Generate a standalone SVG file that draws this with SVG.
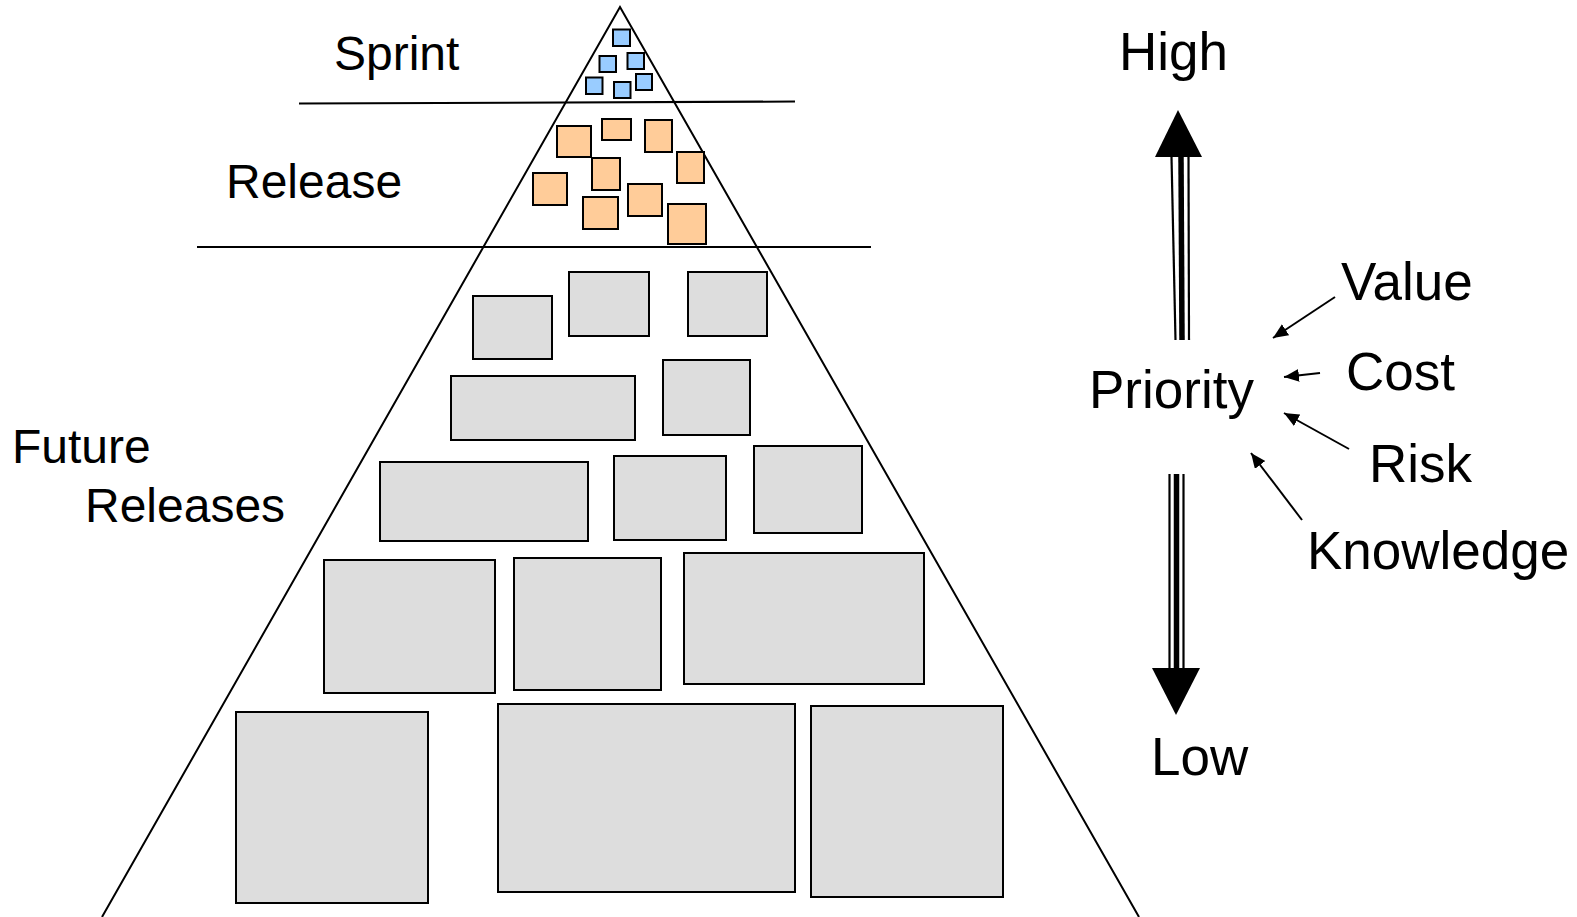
<svg xmlns="http://www.w3.org/2000/svg" width="1577" height="917" viewBox="0 0 1577 917">
  <style>
    .lbl { font-family: "Liberation Sans", Arial, sans-serif; fill: #000; }
    .left { font-size: 48px; }
    .right { font-size: 53px; }
    .edge { stroke: #000; stroke-width: 2; fill: none; }
    .sprint { fill: #99ccff; stroke: #000; stroke-width: 2; }
    .release { fill: #ffcc99; stroke: #000; stroke-width: 2; }
    .future { fill: #dddddd; stroke: #000; stroke-width: 2; }
    .thin { stroke: #000; stroke-width: 2.2; }
    .thick { stroke: #000; stroke-width: 5.5; }
    .pointer { stroke: #000; stroke-width: 2; fill: none; marker-end: url(#head); }
  </style>
  <defs>
    <marker id="head" markerUnits="userSpaceOnUse" markerWidth="16" markerHeight="14" refX="15" refY="6.5" orient="auto">
      <path d="M0,0 L15,6.5 L0,13 z" fill="#000"/>
    </marker>
  </defs>
  <rect width="1577" height="917" fill="#fff"/>

  <!-- backlog pyramid outline and tier dividers -->
  <g id="pyramid">
    <polyline class="edge" points="102,917 620,7 1139,917"/>
    <line class="edge" x1="299" y1="103.5" x2="795" y2="101.5"/>
    <line class="edge" x1="197" y1="247" x2="871" y2="247"/>
  </g>

  <!-- sprint tier items -->
  <g id="sprint-items">
    <rect class="sprint" x="613" y="29.5" width="17" height="16.5"/>
    <rect class="sprint" x="599.5" y="56" width="16.5" height="16"/>
    <rect class="sprint" x="627.5" y="53" width="16.5" height="16"/>
    <rect class="sprint" x="586" y="77.5" width="16.5" height="16.5"/>
    <rect class="sprint" x="614" y="82" width="16.5" height="16"/>
    <rect class="sprint" x="636" y="74" width="16" height="16"/>
  </g>

  <!-- release tier items -->
  <g id="release-items">
    <rect class="release" x="557" y="126" width="34" height="31"/>
    <rect class="release" x="602" y="119" width="29" height="21"/>
    <rect class="release" x="645" y="120" width="27" height="32"/>
    <rect class="release" x="677" y="152" width="27" height="31"/>
    <rect class="release" x="592" y="158" width="28" height="32"/>
    <rect class="release" x="533" y="173" width="34" height="32"/>
    <rect class="release" x="628" y="184" width="34" height="32"/>
    <rect class="release" x="583" y="197" width="35" height="32"/>
    <rect class="release" x="668" y="204" width="38" height="40"/>
  </g>

  <!-- future release items -->
  <g id="future-items">
    <rect class="future" x="473" y="296" width="79" height="63"/>
    <rect class="future" x="569" y="272" width="80" height="64"/>
    <rect class="future" x="688" y="272" width="79" height="64"/>
    <rect class="future" x="451" y="376" width="184" height="64"/>
    <rect class="future" x="663" y="360" width="87" height="75"/>
    <rect class="future" x="380" y="462" width="208" height="79"/>
    <rect class="future" x="614" y="456" width="112" height="84"/>
    <rect class="future" x="754" y="446" width="108" height="87"/>
    <rect class="future" x="324" y="560" width="171" height="133"/>
    <rect class="future" x="514" y="558" width="147" height="132"/>
    <rect class="future" x="684" y="553" width="240" height="131"/>
    <rect class="future" x="236" y="712" width="192" height="191"/>
    <rect class="future" x="498" y="704" width="297" height="188"/>
    <rect class="future" x="811" y="706" width="192" height="191"/>
  </g>

  <!-- tier labels -->
  <g id="tier-labels">
    <text class="lbl left" x="334" y="70">Sprint</text>
    <text class="lbl left" x="226" y="198">Release</text>
    <text class="lbl left" x="12" y="463">Future</text>
    <text class="lbl left" x="85" y="522">Releases</text>
  </g>

  <!-- priority scale -->
  <g id="priority">
    <text class="lbl right" x="1119" y="70">High</text>
    <text class="lbl right" x="1089" y="408">Priority</text>
    <text class="lbl right" x="1151" y="775">Low</text>
  </g>
  <g id="factors">
    <text class="lbl right" x="1341" y="300">Value</text>
    <text class="lbl right" x="1346" y="390">Cost</text>
    <text class="lbl right" x="1369" y="482">Risk</text>
    <text class="lbl right" x="1307" y="569">Knowledge</text>
  </g>

  <g id="connectors">
    <!-- up arrow: compound shaft with solid head -->
    <line class="thin" x1="1171.5" y1="157" x2="1175.5" y2="340"/>
    <line class="thick" x1="1181" y1="157" x2="1182" y2="340"/>
    <line class="thin" x1="1188.5" y1="157" x2="1189" y2="340"/>
    <polygon points="1178,110 1202,157 1155,157" fill="#000"/>
    <!-- down arrow -->
    <line class="thin" x1="1169.5" y1="474" x2="1169.5" y2="668"/>
    <line class="thick" x1="1176.5" y1="474" x2="1176.5" y2="668"/>
    <line class="thin" x1="1183.5" y1="474" x2="1183.5" y2="668"/>
    <polygon points="1152,668 1200,668 1176,715" fill="#000"/>
    <!-- factor pointers -->
    <line class="pointer" x1="1335" y1="297" x2="1273" y2="338"/>
    <line class="pointer" x1="1320" y1="373" x2="1284" y2="377"/>
    <line class="pointer" x1="1349" y1="449" x2="1284" y2="413"/>
    <line class="pointer" x1="1302" y1="520" x2="1251" y2="453"/>
  </g>
</svg>
